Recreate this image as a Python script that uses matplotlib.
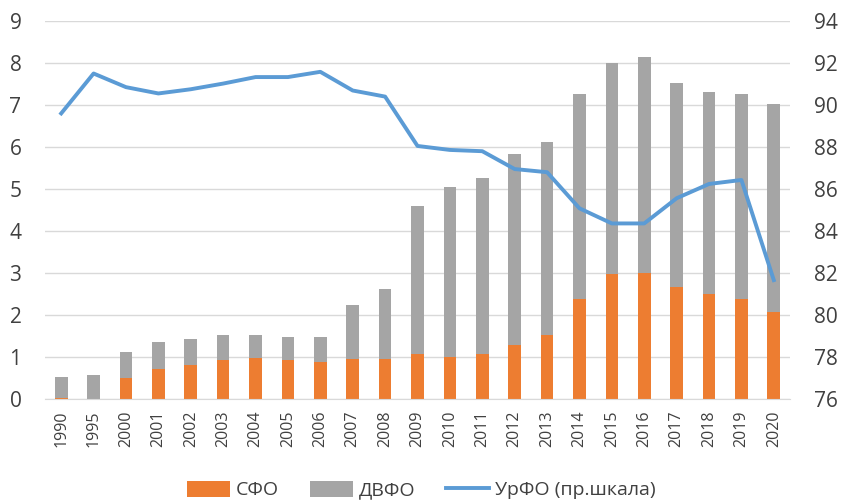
import matplotlib.pyplot as plt
import numpy as np

# years on the x axis
years = ['1990', '1995', '2000', '2001', '2002', '2003', '2004', '2005', '2006',
         '2007', '2008', '2009', '2010', '2011', '2012', '2013', '2014', '2015',
         '2016', '2017', '2018', '2019', '2020']

# СФО (bottom part of the bar)
sfo = [0.02, 0.0, 0.51, 0.71, 0.82, 0.94, 0.97, 0.94, 0.88, 0.95, 0.96, 1.06,
       0.99, 1.08, 1.28, 1.53, 2.37, 2.98, 2.99, 2.66, 2.49, 2.37, 2.06]
# total bar height (СФО + ДВФО)
total = [0.52, 0.565, 1.12, 1.36, 1.43, 1.535, 1.535, 1.47, 1.47, 2.25, 2.61, 4.6,
         5.05, 5.26, 5.83, 6.13, 7.27, 7.99, 8.14, 7.53, 7.32, 7.26, 7.02]
dvfo = [t - s for t, s in zip(total, sfo)]

# УрФО, right scale
urfo = [89.6, 91.5, 90.85, 90.55, 90.75, 91.02, 91.33, 91.33, 91.58, 90.69, 90.4,
        88.05, 87.86, 87.8, 86.95, 86.8, 85.08, 84.36, 84.36, 85.56, 86.24, 86.43,
        81.66]

plt.rcParams['font.family'] = ['Open Sans', 'DejaVu Sans']

fig = plt.figure(figsize=(8.43, 5), dpi=100)
ax = fig.add_axes([45 / 843, 101 / 500, 745 / 843, 378 / 500])
x = np.arange(len(years))

orange = '#ED7D31'
grey = '#A5A5A5'
blue = '#5B9BD5'

ax.bar(x, sfo, width=0.39, color=orange, label='СФО', zorder=2)
ax.bar(x, dvfo, width=0.39, bottom=sfo, color=grey, label='ДВФО', zorder=2)

ax.set_xlim(-0.5, len(years) - 0.5)
ax.set_ylim(0, 9)
ax.set_yticks(range(0, 10))
ax.set_xticks(x)
ax.set_xticklabels(years, rotation=90, fontsize=11.5, color='#404040')
ax.tick_params(axis='y', labelsize=15, colors='#404040', length=0, pad=17)
ax.tick_params(axis='x', length=0, pad=8)
ax.grid(axis='y', color='#D9D9D9', linewidth=1, zorder=0)
for side in ['top', 'right', 'left']:
    ax.spines[side].set_visible(False)
ax.spines['bottom'].set_color('#D9D9D9')

ax2 = ax.twinx()
ax2.plot(x, urfo, color=blue, linewidth=2.8, label='УрФО (пр.шкала)', zorder=3)
ax2.set_ylim(76, 94)
ax2.set_yticks(range(76, 95, 2))
ax2.tick_params(axis='y', labelsize=15, colors='#404040', length=0, pad=17)
for side in ['top', 'right', 'left', 'bottom']:
    ax2.spines[side].set_visible(False)

h1, l1 = ax.get_legend_handles_labels()
h2, l2 = ax2.get_legend_handles_labels()
fig.legend(h1 + h2, l1 + l2, loc='center', bbox_to_anchor=(0.5, 0.02), ncol=3,
           frameon=False, fontsize=14, handlelength=2.2, handleheight=0.9,
           handletextpad=0.3, columnspacing=1.6, labelcolor='#404040')

fig.savefig('out.png', dpi=100)
